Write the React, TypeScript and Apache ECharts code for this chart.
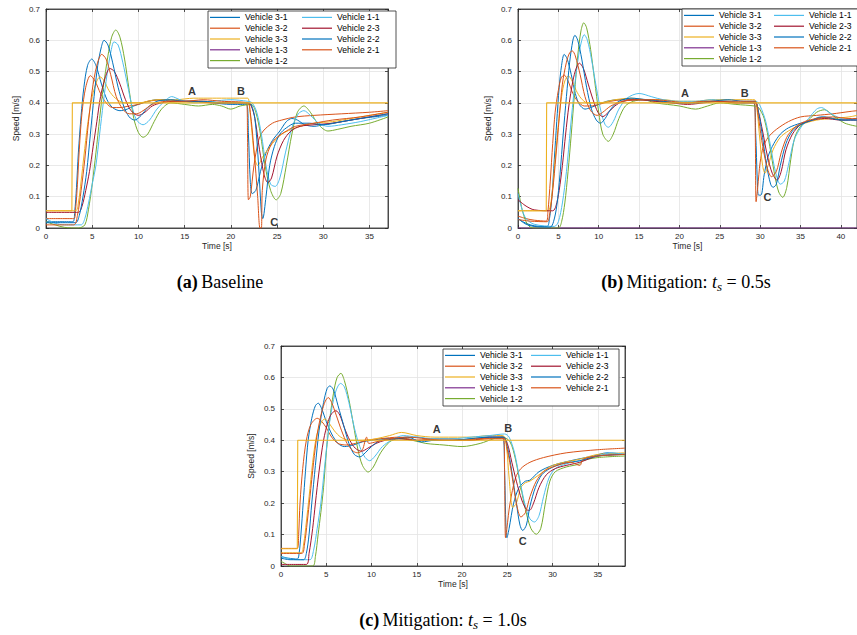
import React, { useEffect, useRef } from 'react';
import * as echarts from 'echarts';

const vehicleNames = ['Vehicle 3-1', 'Vehicle 3-2', 'Vehicle 3-3', 'Vehicle 1-3', 'Vehicle 1-2', 'Vehicle 1-1', 'Vehicle 2-3', 'Vehicle 2-2', 'Vehicle 2-1'];
const vehicleColors = ['#0072BD', '#D95319', '#EDB120', '#7E2F8E', '#77AC30', '#4DBEEE', '#A2142F', '#0072BD', '#D95319'];
const refColor = '#EDB120';

const captions = ['(a)|Baseline', '(b)|Mitigation: |0.5s', '(c)|Mitigation: |1.0s'];

// ---------- Panel (a): Baseline ----------
const aRef = [[0, 0.055], [2.8, 0.055], [2.85, 0.4], [37, 0.4]];
const a31 = [[0, 0.02], [2.9, 0.02], [3.1, 0.05], [3.3, 0.13], [3.5, 0.24], [3.8, 0.36], [4.1, 0.45], [4.5, 0.52], [4.95, 0.54], [5.4, 0.52], [6, 0.46], [6.6, 0.41], [7.2, 0.385], [8, 0.375], [8.8, 0.38], [9.5, 0.39], [10.5, 0.4], [12, 0.41], [14, 0.405], [16, 0.405], [18, 0.4], [20, 0.395], [21.7, 0.395], [21.9, 0.3], [22.1, 0.15], [22.3, 0.11], [22.7, 0.12], [23.2, 0.18], [23.8, 0.24], [24.5, 0.28], [25.3, 0.31], [26, 0.34], [26.6, 0.35], [27.2, 0.345], [28, 0.33], [29, 0.325], [30, 0.33], [32, 0.34], [34, 0.35], [37, 0.36]];
const a32 = [[0, 0.03], [3.0, 0.03], [3.2, 0.06], [3.4, 0.14], [3.6, 0.25], [3.9, 0.37], [4.3, 0.45], [4.8, 0.487], [5.3, 0.47], [5.9, 0.43], [6.5, 0.4], [7.2, 0.385], [8, 0.385], [9, 0.39], [10, 0.395], [11, 0.405], [13, 0.41], [15, 0.405], [17, 0.405], [19, 0.4], [21.7, 0.4], [21.8, 0.3], [21.9, 0.09], [22.1, 0.1], [22.5, 0.2], [23, 0.28], [23.5, 0.31], [24.5, 0.335], [25.5, 0.345], [27, 0.355], [29, 0.36], [32, 0.365], [35, 0.37], [37, 0.375]];
const a33 = [[0, 0.055], [3.2, 0.055], [3.5, 0.08], [3.8, 0.15], [4.1, 0.23], [4.5, 0.33], [5, 0.42], [5.5, 0.47], [5.85, 0.483], [6.3, 0.47], [6.8, 0.44], [7.5, 0.415], [8.5, 0.4], [10, 0.4], [12, 0.41], [14, 0.41], [16, 0.415], [18, 0.415], [20, 0.415], [21.8, 0.415], [22.0, 0.39], [22.3, 0.3], [22.6, 0.22], [22.9, 0.2], [23.5, 0.23], [24.5, 0.27], [25.5, 0.3], [27, 0.32], [29, 0.335], [31, 0.34], [33, 0.35], [35, 0.36], [37, 0.37]];
const a13: number[][] = [];
const a12 = [[0, 0.02], [1, 0.01], [2, 0.002], [3.5, 0], [4.2, 0.01], [4.6, 0.06], [5, 0.14], [5.4, 0.24], [5.8, 0.35], [6.2, 0.45], [6.7, 0.55], [7.1, 0.61], [7.55, 0.633], [8, 0.61], [8.5, 0.54], [9, 0.44], [9.5, 0.35], [10, 0.305], [10.5, 0.29], [11, 0.3], [11.7, 0.34], [12.5, 0.38], [13.5, 0.4], [15, 0.395], [16.5, 0.39], [18, 0.395], [19, 0.39], [20, 0.38], [21, 0.39], [22.2, 0.395], [22.7, 0.37], [23.2, 0.3], [23.7, 0.2], [24.3, 0.12], [24.9, 0.09], [25.4, 0.11], [26, 0.2], [26.6, 0.3], [27.2, 0.37], [27.9, 0.39], [28.6, 0.37], [29.5, 0.33], [30.5, 0.31], [31.5, 0.315], [33, 0.325], [35, 0.335], [37, 0.355]];
const a11 = [[0, 0.03], [1, 0.015], [2, 0.01], [3.8, 0.01], [4.2, 0.03], [4.6, 0.08], [5, 0.14], [5.4, 0.2], [5.8, 0.3], [6.2, 0.4], [6.6, 0.49], [7, 0.56], [7.36, 0.595], [7.8, 0.585], [8.3, 0.53], [8.8, 0.46], [9.3, 0.39], [9.8, 0.345], [10.5, 0.33], [11.2, 0.345], [12, 0.38], [13, 0.41], [13.6, 0.42], [14.5, 0.41], [16, 0.4], [18, 0.405], [20, 0.41], [21.8, 0.405], [22.3, 0.4], [22.8, 0.37], [23.3, 0.3], [23.8, 0.2], [24.3, 0.14], [24.8, 0.133], [25.3, 0.16], [25.9, 0.24], [26.6, 0.32], [27.3, 0.365], [27.9, 0.375], [28.6, 0.36], [29.5, 0.335], [30.5, 0.325], [32, 0.33], [34, 0.34], [37, 0.36]];
const a23 = [[0, 0.05], [3.5, 0.05], [3.9, 0.07], [4.3, 0.12], [4.7, 0.18], [5.1, 0.26], [5.5, 0.34], [5.9, 0.42], [6.4, 0.48], [6.9, 0.51], [7.4, 0.5], [8, 0.46], [8.6, 0.41], [9.2, 0.375], [10, 0.36], [10.7, 0.37], [11.5, 0.39], [12.5, 0.4], [14, 0.405], [16, 0.405], [18, 0.4], [20, 0.4], [21.8, 0.4], [22.2, 0.39], [22.6, 0.35], [23.1, 0.25], [23.6, 0.17], [24, 0.145], [24.4, 0.16], [25, 0.23], [25.7, 0.28], [26.5, 0.31], [27.5, 0.325], [29, 0.33], [31, 0.335], [33, 0.345], [35, 0.355], [37, 0.365]];
const a22 = [[0, 0.017], [3.2, 0.017], [3.6, 0.04], [4, 0.1], [4.4, 0.18], [4.8, 0.3], [5.2, 0.42], [5.6, 0.52], [6, 0.58], [6.28, 0.6], [6.7, 0.585], [7.2, 0.53], [7.8, 0.45], [8.4, 0.39], [9, 0.355], [9.6, 0.345], [10.3, 0.36], [11, 0.385], [12, 0.405], [13.5, 0.41], [15, 0.405], [17, 0.405], [19, 0.4], [21.8, 0.4], [22.2, 0.395], [22.6, 0.35], [23, 0.2], [23.3, 0.05], [23.45, 0.03], [23.8, 0.1], [24.2, 0.2], [24.7, 0.26], [25.3, 0.3], [26, 0.32], [27, 0.335], [28.5, 0.335], [30, 0.33], [32, 0.34], [34, 0.35], [37, 0.365]];
const a21 = [[0, 0.01], [3.0, 0.01], [3.4, 0.04], [3.8, 0.12], [4.2, 0.22], [4.6, 0.34], [5, 0.44], [5.5, 0.52], [6.03, 0.555], [6.5, 0.54], [7, 0.49], [7.6, 0.42], [8.3, 0.38], [9, 0.365], [9.8, 0.365], [10.5, 0.375], [11.5, 0.395], [13, 0.405], [15, 0.405], [17, 0.41], [19, 0.405], [21.8, 0.4], [22.1, 0.37], [22.5, 0.25], [22.9, 0.1], [23.15, 0], [23.3, 0], [23.4, 0.12], [23.8, 0.22], [24.4, 0.27], [25, 0.29], [26, 0.31], [27, 0.325], [29, 0.335], [31, 0.345], [34, 0.355], [37, 0.37]];
const notesA = [['A', 15.8, 0.438], ['B', 21.1, 0.438], ['C', 24.7, 0.02]];

// ---------- Panel (b): t_s = 0.5 s ----------
const bRef = [[0, 0.055], [3.5, 0.055], [3.55, 0.4], [42, 0.4]];
const b31 = [[0, 0.03], [1, 0.015], [2, 0.007], [3.6, 0.005], [3.9, 0.03], [4.2, 0.1], [4.5, 0.22], [4.8, 0.34], [5.1, 0.45], [5.4, 0.52], [5.72, 0.555], [6.1, 0.54], [6.6, 0.49], [7.1, 0.43], [7.6, 0.395], [8.3, 0.38], [9, 0.385], [10, 0.395], [11, 0.405], [12.5, 0.41], [14, 0.41], [16, 0.41], [18, 0.405], [20, 0.4], [22, 0.4], [24, 0.405], [26, 0.405], [28, 0.4], [29.2, 0.4], [29.45, 0.3], [29.65, 0.15], [29.8, 0.105], [30.1, 0.105], [30.5, 0.17], [31, 0.23], [31.7, 0.27], [32.5, 0.3], [33.5, 0.32], [35, 0.335], [36, 0.34], [37.5, 0.355], [39, 0.35], [40.5, 0.345], [42, 0.35]];
const b32 = [[0, 0.038], [1, 0.03], [2, 0.025], [3.5, 0.022], [3.7, 0.05], [4, 0.15], [4.3, 0.27], [4.6, 0.37], [5, 0.44], [5.35, 0.48], [5.72, 0.489], [6.2, 0.47], [6.8, 0.43], [7.4, 0.405], [8.2, 0.39], [9, 0.39], [10, 0.395], [11.5, 0.405], [13, 0.41], [15, 0.41], [17, 0.405], [19, 0.4], [21, 0.4], [23, 0.405], [25, 0.405], [27, 0.4], [29.3, 0.405], [29.4, 0.3], [29.5, 0.084], [29.7, 0.13], [30, 0.21], [30.4, 0.26], [31, 0.29], [32, 0.315], [33.5, 0.34], [35, 0.355], [37, 0.36], [39, 0.365], [41, 0.372], [42, 0.375]];
const b33 = [[0, 0.055], [3.7, 0.055], [4, 0.07], [4.3, 0.13], [4.6, 0.22], [5, 0.33], [5.4, 0.42], [5.8, 0.47], [6.25, 0.486], [6.7, 0.47], [7.2, 0.44], [7.8, 0.415], [8.6, 0.4], [10, 0.4], [12, 0.41], [14, 0.415], [16, 0.41], [18, 0.41], [20, 0.405], [22, 0.405], [24, 0.41], [26, 0.41], [28, 0.41], [29.3, 0.41], [29.6, 0.38], [29.9, 0.3], [30.3, 0.2], [30.6, 0.175], [31, 0.2], [31.6, 0.25], [32.5, 0.29], [33.5, 0.31], [35, 0.33], [37, 0.345], [39, 0.35], [41, 0.355], [42, 0.36]];
const b13 = [[0, 0], [42, 0]];
const b12 = [[0, 0.127], [0.5, 0.06], [1, 0.02], [1.5, 0.003], [2, 0], [5, 0], [5.4, 0.02], [5.8, 0.08], [6.2, 0.18], [6.6, 0.3], [7, 0.43], [7.4, 0.55], [7.8, 0.63], [8.15, 0.656], [8.5, 0.64], [9, 0.57], [9.5, 0.47], [10, 0.37], [10.5, 0.3], [11.2, 0.277], [11.8, 0.3], [12.5, 0.35], [13.3, 0.39], [14.3, 0.405], [15.5, 0.41], [17, 0.4], [18.5, 0.395], [20, 0.39], [22, 0.38], [23.5, 0.39], [25, 0.4], [27, 0.395], [29.3, 0.39], [29.8, 0.385], [30.5, 0.35], [31.2, 0.26], [31.8, 0.17], [32.3, 0.115], [32.8, 0.098], [33.3, 0.13], [33.8, 0.22], [34.3, 0.29], [35, 0.325], [36, 0.345], [37, 0.37], [38, 0.378], [39, 0.36], [40.5, 0.335], [42, 0.325]];
const b11 = [[0, 0.11], [0.5, 0.06], [1, 0.03], [2, 0.012], [4.5, 0.005], [5, 0.02], [5.5, 0.08], [6, 0.18], [6.5, 0.32], [7, 0.45], [7.5, 0.55], [7.9, 0.6], [8.2, 0.618], [8.6, 0.6], [9.1, 0.54], [9.7, 0.45], [10.3, 0.37], [10.8, 0.33], [11.2, 0.322], [11.8, 0.34], [12.5, 0.38], [13.5, 0.415], [15, 0.43], [16.5, 0.42], [18, 0.41], [20, 0.405], [22, 0.405], [24, 0.41], [26, 0.405], [28, 0.4], [29.5, 0.405], [30, 0.39], [30.7, 0.34], [31.3, 0.26], [31.9, 0.18], [32.5, 0.14], [33, 0.15], [33.5, 0.2], [34.2, 0.28], [35, 0.32], [36, 0.35], [37, 0.38], [37.6, 0.385], [38.5, 0.37], [40, 0.35], [42, 0.345]];
const b23 = [[0, 0.09], [1, 0.07], [2, 0.058], [4.3, 0.055], [4.7, 0.07], [5.1, 0.12], [5.5, 0.2], [5.9, 0.3], [6.3, 0.39], [6.8, 0.47], [7.2, 0.51], [7.6, 0.527], [8.1, 0.51], [8.7, 0.46], [9.3, 0.41], [9.9, 0.37], [10.5, 0.356], [11.2, 0.37], [12, 0.39], [13, 0.405], [15, 0.41], [17, 0.405], [19, 0.4], [21, 0.395], [23, 0.4], [25, 0.405], [27, 0.4], [29.4, 0.4], [29.8, 0.37], [30.3, 0.31], [30.9, 0.23], [31.5, 0.175], [32.1, 0.153], [32.6, 0.18], [33.2, 0.25], [34, 0.3], [35, 0.33], [36.5, 0.345], [38, 0.35], [40, 0.345], [42, 0.345]];
const b22 = [[0, 0.03], [1, 0.012], [2, 0.005], [4, 0.003], [4.4, 0.02], [4.8, 0.07], [5.2, 0.17], [5.6, 0.3], [6, 0.42], [6.4, 0.53], [6.8, 0.6], [7.05, 0.616], [7.4, 0.6], [7.9, 0.54], [8.5, 0.45], [9.1, 0.38], [9.7, 0.345], [10.2, 0.335], [10.8, 0.35], [11.5, 0.38], [12.5, 0.405], [14, 0.415], [16, 0.41], [18, 0.405], [20, 0.4], [22, 0.4], [24, 0.405], [26, 0.41], [28, 0.405], [29.35, 0.405], [29.8, 0.37], [30.3, 0.29], [30.8, 0.2], [31.3, 0.14], [31.6, 0.13], [32, 0.14], [32.5, 0.2], [33.2, 0.27], [34, 0.31], [35, 0.33], [36.5, 0.345], [38, 0.355], [40, 0.345], [42, 0.345]];
const b21 = [[0, 0.027], [1.5, 0.022], [3.6, 0.02], [3.9, 0.04], [4.3, 0.12], [4.7, 0.23], [5.1, 0.35], [5.5, 0.46], [6, 0.53], [6.4, 0.56], [6.73, 0.566], [7.1, 0.55], [7.7, 0.49], [8.3, 0.42], [9, 0.375], [9.8, 0.36], [10.5, 0.37], [11.5, 0.39], [13, 0.405], [15, 0.41], [17, 0.41], [19, 0.405], [21, 0.4], [23, 0.405], [25, 0.405], [27, 0.405], [29.35, 0.405], [29.7, 0.37], [30.2, 0.28], [30.8, 0.2], [31.4, 0.164], [32, 0.18], [32.6, 0.24], [33.3, 0.29], [34.2, 0.32], [35.5, 0.34], [37, 0.35], [39, 0.355], [41, 0.35], [42, 0.35]];
const notesB = [['A', 20.7, 0.432], ['B', 28.1, 0.432], ['C', 30.9, 0.1]];

// ---------- Panel (c): t_s = 1.0 s ----------
const cRef = [[0, 0.055], [1.8, 0.055], [1.85, 0.4], [38, 0.4]];
const c31 = [[0, 0.03], [0.8, 0.025], [1.8, 0.022], [2.0, 0.04], [2.2, 0.1], [2.45, 0.2], [2.7, 0.3], [3, 0.4], [3.4, 0.47], [3.8, 0.51], [4.12, 0.518], [4.5, 0.5], [5, 0.46], [5.6, 0.42], [6.3, 0.39], [7, 0.38], [8, 0.385], [9, 0.395], [10, 0.4], [11.5, 0.405], [13, 0.405], [15, 0.41], [17, 0.4], [19, 0.4], [21, 0.405], [23, 0.41], [24.5, 0.41], [24.7, 0.3], [24.85, 0.12], [24.95, 0.09], [25.2, 0.12], [25.7, 0.2], [26.3, 0.25], [27, 0.27], [27.5, 0.273], [28.5, 0.3], [30, 0.32], [32, 0.335], [34.5, 0.35], [36, 0.36], [38, 0.355]];
const c32 = [[0, 0.056], [1.8, 0.056], [1.95, 0.1], [2.1, 0.2], [2.4, 0.31], [2.8, 0.4], [3.3, 0.45], [4, 0.47], [4.5, 0.46], [5, 0.44], [5.6, 0.41], [6.3, 0.39], [7.2, 0.385], [8.2, 0.39], [9.5, 0.4], [11, 0.405], [13, 0.41], [15, 0.4], [17, 0.405], [19, 0.405], [21, 0.4], [23, 0.405], [24.6, 0.405], [24.7, 0.3], [24.8, 0.09], [24.95, 0.12], [25.3, 0.2], [25.9, 0.28], [26.5, 0.31], [27.5, 0.33], [29, 0.345], [31.5, 0.36], [35, 0.37], [38, 0.375]];
const c33 = [[0, 0.042], [2.2, 0.042], [2.5, 0.07], [2.8, 0.14], [3.1, 0.22], [3.5, 0.33], [3.9, 0.41], [4.4, 0.455], [4.85, 0.468], [5.3, 0.455], [5.9, 0.43], [6.6, 0.41], [7.5, 0.4], [9, 0.4], [10.5, 0.405], [12, 0.415], [13.3, 0.425], [15, 0.415], [17, 0.41], [19, 0.41], [21, 0.41], [23, 0.415], [24.5, 0.415], [24.9, 0.38], [25.2, 0.28], [25.6, 0.186], [26, 0.2], [26.5, 0.25], [27, 0.265], [27.5, 0.27], [28.5, 0.29], [30, 0.32], [33, 0.34], [35, 0.355], [38, 0.36]];
const c13: number[][] = [];
const c12 = [[0, 0.015], [0.5, 0.007], [1, 0], [3.5, 0], [3.8, 0.03], [4.1, 0.1], [4.4, 0.17], [4.7, 0.25], [5, 0.36], [5.4, 0.47], [5.8, 0.55], [6.2, 0.6], [6.62, 0.613], [7, 0.59], [7.5, 0.53], [8, 0.45], [8.5, 0.37], [9, 0.32], [9.63, 0.299], [10.2, 0.315], [11, 0.36], [12, 0.395], [13, 0.405], [14.5, 0.4], [16, 0.39], [18, 0.385], [20, 0.38], [22, 0.39], [23.5, 0.405], [24.5, 0.41], [25.3, 0.395], [25.9, 0.34], [26.5, 0.25], [27, 0.18], [27.6, 0.12], [28.2, 0.101], [28.7, 0.12], [29.2, 0.2], [29.7, 0.27], [30.3, 0.3], [31.5, 0.315], [33, 0.325], [33.3, 0.335], [35, 0.345], [38, 0.35]];
const c11 = [[0, 0.03], [1, 0.022], [2, 0.02], [3.2, 0.02], [3.6, 0.05], [4, 0.12], [4.4, 0.2], [4.8, 0.31], [5.2, 0.42], [5.6, 0.5], [6.1, 0.56], [6.58, 0.581], [7, 0.57], [7.5, 0.52], [8.1, 0.44], [8.7, 0.38], [9.3, 0.345], [9.8, 0.335], [10.4, 0.35], [11.2, 0.38], [12.2, 0.4], [13.5, 0.415], [15, 0.41], [17, 0.405], [19, 0.405], [21, 0.41], [23, 0.415], [24.7, 0.42], [25.2, 0.41], [25.8, 0.36], [26.4, 0.27], [27, 0.19], [27.5, 0.15], [28, 0.14], [28.5, 0.16], [29, 0.22], [29.6, 0.28], [30.3, 0.31], [31.5, 0.325], [33, 0.335], [35, 0.35], [36.5, 0.36], [38, 0.355]];
const c23 = [[0, 0.005], [2.8, 0.005], [3.1, 0.04], [3.5, 0.12], [3.8, 0.2], [4.2, 0.3], [4.7, 0.4], [5.2, 0.46], [5.6, 0.485], [6.07, 0.494], [6.5, 0.48], [7, 0.44], [7.6, 0.4], [8.2, 0.375], [8.9, 0.365], [9.6, 0.375], [10.5, 0.39], [11.5, 0.4], [13, 0.405], [15, 0.4], [17, 0.4], [19, 0.4], [21, 0.4], [23, 0.41], [24.5, 0.41], [25, 0.39], [25.5, 0.33], [26, 0.27], [26.6, 0.21], [27.1, 0.18], [27.45, 0.177], [27.9, 0.2], [28.5, 0.25], [29.3, 0.29], [30.3, 0.31], [31.5, 0.32], [33, 0.33], [35, 0.35], [38, 0.355]];
const c22 = [[0, 0.025], [1, 0.02], [2.5, 0.02], [2.8, 0.04], [3.1, 0.1], [3.4, 0.2], [3.8, 0.32], [4.2, 0.43], [4.7, 0.52], [5.1, 0.565], [5.4, 0.573], [5.8, 0.56], [6.3, 0.51], [6.9, 0.45], [7.5, 0.39], [8.1, 0.355], [8.7, 0.347], [9.3, 0.36], [10, 0.38], [11, 0.4], [12.5, 0.405], [14, 0.41], [15.5, 0.395], [17, 0.4], [19, 0.4], [21, 0.405], [23, 0.41], [24.6, 0.41], [25, 0.38], [25.5, 0.3], [26, 0.2], [26.4, 0.13], [26.7, 0.113], [27.1, 0.13], [27.5, 0.19], [28.1, 0.25], [28.8, 0.29], [29.7, 0.31], [31, 0.325], [33, 0.335], [35, 0.35], [38, 0.355]];
const c21 = [[0, 0.04], [2.3, 0.04], [2.6, 0.07], [2.9, 0.14], [3.2, 0.22], [3.6, 0.33], [4, 0.42], [4.5, 0.49], [4.9, 0.525], [5.22, 0.536], [5.6, 0.52], [6.1, 0.48], [6.7, 0.43], [7.3, 0.39], [8, 0.365], [8.5, 0.36], [9, 0.37], [9.45, 0.41], [9.7, 0.39], [10.5, 0.395], [12, 0.405], [14, 0.41], [16, 0.405], [18, 0.4], [20, 0.4], [22, 0.405], [24.6, 0.405], [25, 0.37], [25.5, 0.29], [26, 0.2], [26.5, 0.156], [27, 0.17], [27.5, 0.22], [28.2, 0.27], [29, 0.3], [30, 0.315], [32, 0.33], [33, 0.32], [33.4, 0.34], [35, 0.35], [38, 0.355]];
const notesC = [['A', 17.2, 0.435], ['B', 25.1, 0.438], ['C', 26.7, 0.08]];

const panels = [
  { xMax: 37, grid: { left: 46, top: 9, width: 342, height: 219 }, legendPos: { left: 208, top: 11 }, textW: 56, padR: 3, lines: [a31, a32, a33, a13, a12, a11, a23, a22, a21], ref: aRef, notes: notesA, cap: { x: 220, y: 282 } },
  { xMax: 42, grid: { left: 518, top: 9, width: 345, height: 219 }, legendPos: { left: 682, top: 9 }, textW: 54, padR: 12, lines: [b31, b32, b33, b13, b12, b11, b23, b22, b21], ref: bRef, notes: notesB, cap: { x: 686, y: 282 } },
  { xMax: 38, grid: { left: 281, top: 346, width: 344, height: 220 }, legendPos: { left: 443, top: 349 }, textW: 50, padR: 3, lines: [c31, c32, c33, c13, c12, c11, c23, c22, c21], ref: cRef, notes: notesC, cap: { x: 443, y: 620 } },
];

const axisColor = '#262626';
const font = 'Liberation Sans, Arial, sans-serif';

function buildOption() {
  const grid: any[] = [];
  const xAxis: any[] = [];
  const yAxis: any[] = [];
  const series: any[] = [];
  const legend: any[] = [];
  const graphic: any[] = [];

  panels.forEach((p, i) => {
    grid.push({ ...p.grid, show: true, borderColor: axisColor, borderWidth: 0.8, backgroundColor: '#fff' });
    xAxis.push({
      type: 'value', gridIndex: i, min: 0, max: p.xMax, interval: 5,
      name: 'Time [s]', nameLocation: 'middle', nameGap: 13,
      nameTextStyle: { fontSize: 8.5, color: axisColor, fontFamily: font },
      axisLine: { show: true, onZero: false, lineStyle: { color: axisColor, width: 0.8 } },
      axisTick: { show: true, inside: true, length: 3, lineStyle: { color: axisColor, width: 0.8 } },
      axisLabel: { fontSize: 8, color: axisColor, fontFamily: font, margin: 4, showMaxLabel: false },
      splitLine: { show: true, lineStyle: { color: '#e3e3e3', width: 0.8 } },
    });
    yAxis.push({
      type: 'value', gridIndex: i, min: 0, max: 0.7, interval: 0.1,
      name: 'Speed [m/s]', nameLocation: 'middle', nameGap: 26,
      nameTextStyle: { fontSize: 8.5, color: axisColor, fontFamily: font },
      axisLine: { show: true, onZero: false, lineStyle: { color: axisColor, width: 0.8 } },
      axisTick: { show: true, inside: true, length: 3, lineStyle: { color: axisColor, width: 0.8 } },
      axisLabel: { fontSize: 8, color: axisColor, fontFamily: font, margin: 6, formatter: (v: number) => (v === 0 ? '0' : v.toFixed(1)) },
      splitLine: { show: true, lineStyle: { color: '#e3e3e3', width: 0.8 } },
    });
  });
  panels.forEach((p, i) => {
    xAxis.push({
      type: 'value', gridIndex: i, min: 0, max: p.xMax, interval: 5, position: 'top',
      axisLine: { show: true, onZero: false, lineStyle: { color: axisColor, width: 0.8 } },
      axisTick: { show: true, inside: true, length: 3, lineStyle: { color: axisColor, width: 0.8 } },
      axisLabel: { show: false }, splitLine: { show: false },
    });
    yAxis.push({
      type: 'value', gridIndex: i, min: 0, max: 0.7, interval: 0.1, position: 'right',
      axisLine: { show: true, onZero: false, lineStyle: { color: axisColor, width: 0.8 } },
      axisTick: { show: true, inside: true, length: 3, lineStyle: { color: axisColor, width: 0.8 } },
      axisLabel: { show: false }, splitLine: { show: false },
    });
  });

  panels.forEach((p, i) => {
    p.lines.forEach((d, k) => {
      series.push({
        type: 'line', name: vehicleNames[k], xAxisIndex: i, yAxisIndex: i,
        data: d, showSymbol: false, symbol: 'none', smooth: 0.3,
        lineStyle: { width: 1, color: vehicleColors[k] }, itemStyle: { color: vehicleColors[k] },
        clip: true, z: 3,
      });
    });
    series.push({
      type: 'line', name: 'Reference', xAxisIndex: i, yAxisIndex: i,
      data: p.ref, showSymbol: false, symbol: 'none',
      lineStyle: { width: 1.1, color: refColor }, itemStyle: { color: refColor }, z: 4,
    });
    series.push({
      type: 'scatter', name: 'notes' + i, xAxisIndex: i, yAxisIndex: i,
      symbol: 'circle', symbolSize: 0.5, itemStyle: { color: 'rgba(0,0,0,0)' }, z: 6,
      data: p.notes.map((n) => ({ name: n[0], value: [n[1], n[2]] })),
      label: { show: true, position: 'inside', formatter: '{b}', fontSize: 11, fontWeight: 'bold', color: '#000', fontFamily: font },
    });
    legend.push({
      data: vehicleNames, orient: 'vertical', left: p.legendPos.left, top: p.legendPos.top, height: 56,
      icon: 'rect', itemWidth: 30, itemHeight: 1.2, itemGap: 1,
      padding: [1.5, p.padR, 2.5, 2],
      backgroundColor: '#fff', borderColor: axisColor, borderWidth: 0.8,
      textStyle: { fontSize: 8.6, color: '#000', fontFamily: font, width: p.textW, lineHeight: 9.8 },
      selectedMode: false, z: 10,
    });
    const parts = captions[i].split('|');
    const isMit = parts.length > 2;
    graphic.push({
      type: 'text', x: p.cap.x, y: p.cap.y,
      style: {
        text: isMit ? `{b|${parts[0]}} {n|${parts[1]}}{it|t}{sub|s}{n| = ${parts[2]}}` : `{b|${parts[0]}} {n|${parts[1]}}`,
        align: 'center', verticalAlign: 'middle',
        rich: {
          b: { fontFamily: 'Liberation Serif, serif', fontWeight: 'bold', fontSize: 18, fill: '#000' },
          n: { fontFamily: 'Liberation Serif, serif', fontSize: 18, fill: '#000' },
          it: { fontFamily: 'Liberation Serif, serif', fontStyle: 'italic', fontSize: 18, fill: '#000' },
          sub: { fontFamily: 'Liberation Serif, serif', fontStyle: 'italic', fontSize: 13, fill: '#000', padding: [8, 0, 0, 0] },
        },
      },
    });
  });

  return { animation: false, backgroundColor: '#fff', grid, xAxis, yAxis, series, legend, graphic };
}

export default function App() {
  const ref = useRef<HTMLDivElement>(null);
  useEffect(() => {
    if (!ref.current) return;
    const chart = echarts.init(ref.current, undefined, { renderer: 'svg' });
    chart.setOption(buildOption() as any);
    return () => chart.dispose();
  }, []);
  return <div ref={ref} style={{ position: 'fixed', left: 0, top: 0, width: 857, height: 635, background: '#fff' }} />;
}
